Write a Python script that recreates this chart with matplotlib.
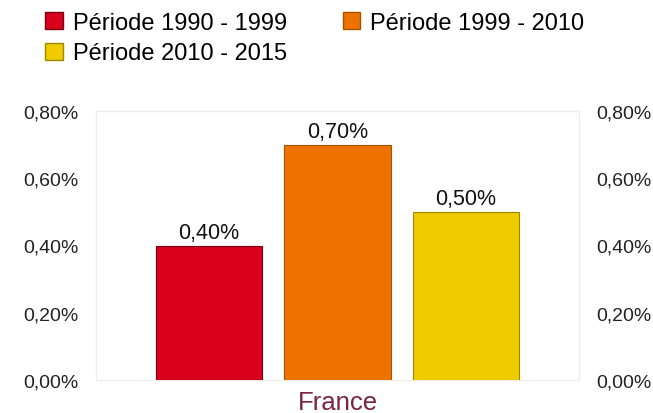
import matplotlib
matplotlib.use("Agg")
import matplotlib.pyplot as plt
from matplotlib.patches import Patch
from matplotlib.ticker import FuncFormatter

plt.rcParams['font.family'] = ['Liberation Sans', 'DejaVu Sans']

periods = ['Période 1990 - 1999', 'Période 1999 - 2010', 'Période 2010 - 2015']
values = [0.40, 0.70, 0.50]
labels = ['0,40%', '0,70%', '0,50%']
country = 'France'
colors = ['#d8001c', '#ee7200', '#f0cb00']
edges = ['#7a0010', '#a85200', '#a08700']

yticks = [0.0, 0.2, 0.4, 0.6, 0.8]

fig = plt.figure(figsize=(6.53, 4.14), dpi=100)
ax = fig.add_axes([96 / 653, 1 - 381 / 414, (579 - 96) / 653, (381 - 112) / 414])

xs = list(range(len(values)))
bars = ax.bar(xs, values, width=0.83, color=colors, edgecolor=edges, linewidth=0.8, zorder=3)
for b, lab in zip(bars, labels):
    ax.text(b.get_x() + b.get_width() / 2, b.get_height() + 0.008, lab,
            ha='center', va='bottom', fontsize=15.5, color='#111111')

ax.set_xlim(-0.88, 2.88)
ax.set_ylim(0, 0.8)
ax.set_yticks(yticks)
fmt = FuncFormatter(lambda v, p: ('%.2f' % v).replace('.', ',') + '%')
ax.yaxis.set_major_formatter(fmt)
ax.tick_params(axis='y', length=0, labelsize=14, labelcolor='#222222', pad=12.5,
               labelleft=True, labelright=True)
ax.set_xticks([])
for s in ax.spines.values():
    s.set_color('#eeeeee')
    s.set_linewidth(1)

ax.set_xlabel(country, fontsize=18.5, color='#7b2343', labelpad=7)

handles = [Patch(facecolor=colors[i], edgecolor=edges[i], label=periods[i]) for i in (0, 2, 1)]
fig.legend(handles=handles, loc='upper left', bbox_to_anchor=(0.037, 1.02), ncol=2,
           frameon=False, fontsize=17, handlelength=0.75, handleheight=0.75,
           handletextpad=0.4, columnspacing=2.37, labelspacing=0.36)

fig.savefig('out.png', dpi=100)
